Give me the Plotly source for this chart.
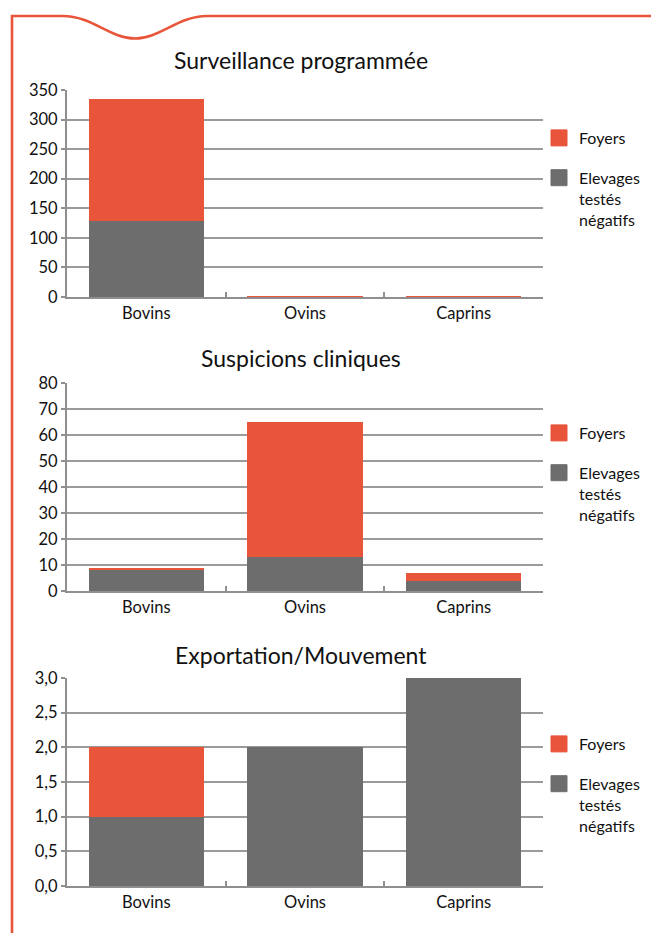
import plotly.graph_objects as go

categories = ["Bovins", "Ovins", "Caprins"]

titles = ["Surveillance programmée", "Suspicions cliniques", "Exportation/Mouvement"]

# Chart 1: Surveillance programmée
surv_negatifs = [129, 0, 0]
surv_foyers = [206, 1, 1]
# Chart 2: Suspicions cliniques
susp_negatifs = [8, 13, 4]
susp_foyers = [1, 52, 3]
# Chart 3: Exportation/Mouvement
exp_negatifs = [1, 2, 3]
exp_foyers = [1, 0, 0]

y_ranges = [(0, 350, 50), (0, 80, 10), (0, 3, 0.5)]

RED = "#E8553A"
GRAY = "#6D6D6D"
AXIS = "#8F8F8F"
FONT = "Lato"
TXT = "#111111"

W, H = 651, 933

def px(x):
    return x / W

def py(y):
    return 1 - y / H

# pixel layout of the three plot areas (top, bottom)
plot_rows = [(90, 297), (383, 591), (678, 886)]
x_left, x_right = 67, 543
legend_tops = [121, 416, 727]
title_y = [60, 358, 655]

series = [(surv_negatifs, surv_foyers), (susp_negatifs, susp_foyers), (exp_negatifs, exp_foyers)]
NEG_NAME = "Elevages<br>testés<br>négatifs"

fig = go.Figure()
for i, (neg, foy) in enumerate(series):
    n = i + 1
    xa = "x" if n == 1 else f"x{n}"
    ya = "y" if n == 1 else f"y{n}"
    lg = "legend" if n == 1 else f"legend{n}"
    fig.add_trace(go.Bar(x=categories, y=neg, name=NEG_NAME, showlegend=False,
                         marker=dict(color=GRAY, line=dict(width=0)),
                         xaxis=xa, yaxis=ya))
    fig.add_trace(go.Bar(x=categories, y=foy, name="Foyers", showlegend=False,
                         marker=dict(color=RED, line=dict(width=0)),
                         xaxis=xa, yaxis=ya))
    # legend entries (larger square swatches), Foyers listed first
    for name, col, grp in [("Foyers", RED, "a"), (NEG_NAME, GRAY, "b")]:
        fig.add_trace(go.Scatter(x=[None], y=[None], mode="markers", name=name,
                                 marker=dict(symbol="square", size=16, color=col,
                                             line=dict(color=col, width=1)),
                                 xaxis=xa, yaxis=ya, legend=lg, legendgroup=f"{grp}{n}",
                                 hoverinfo="skip"))

layout = dict(
    width=W, height=H,
    margin=dict(l=0, r=0, t=0, b=0, autoexpand=False),
    paper_bgcolor="white", plot_bgcolor="white",
    barmode="stack", bargap=0.275,
    separators=", ",
    font=dict(family=FONT, size=16, color=TXT),
)

annotations = []
for i in range(3):
    n = i + 1
    top, bot = plot_rows[i]
    lo, hi, dt = y_ranges[i]
    xk = "xaxis" if n == 1 else f"xaxis{n}"
    yk = "yaxis" if n == 1 else f"yaxis{n}"
    ya = "y" if n == 1 else f"y{n}"
    xa = "x" if n == 1 else f"x{n}"
    layout[xk] = dict(domain=[px(x_left), px(x_right)], anchor=ya, automargin=False,
                      showline=True, linecolor=AXIS, linewidth=2,
                      ticks="inside", tickson="boundaries", ticklen=5,
                      tickcolor=AXIS, tickwidth=1.5, showgrid=False,
                      tickfont=dict(size=16.5, family=FONT, color=TXT))
    layout[yk] = dict(domain=[py(bot), py(top)], anchor=xa, automargin=False,
                      range=[lo, hi], dtick=dt, tick0=0,
                      tickformat=".1f" if n == 3 else "d",
                      showline=True, linecolor=AXIS, linewidth=2,
                      showgrid=True, gridcolor="#9A9A9A", gridwidth=1.5,
                      ticks="outside", ticklen=4, tickcolor=AXIS, tickwidth=1.5,
                      zeroline=False,
                      tickfont=dict(size=16.5, family=FONT, color=TXT))
    lg = "legend" if n == 1 else f"legend{n}"
    layout[lg] = dict(x=px(539), y=py(legend_tops[i]), xanchor="left", yanchor="top",
                      traceorder="grouped", tracegroupgap=16, valign="top",
                      font=dict(size=16, family=FONT, color=TXT),
                      bgcolor="rgba(0,0,0,0)", itemwidth=30)
    annotations.append(dict(text=titles[i], x=px(301), y=py(title_y[i]),
                            xref="paper", yref="paper", showarrow=False,
                            xanchor="center", yanchor="middle",
                            font=dict(size=23, family=FONT, color=TXT)))

layout["annotations"] = annotations

def P(x, y):
    return f"{px(x):.5f},{py(y):.5f}"

frame_path = (f"M {P(12, 933)} L {P(12, 16)} L {P(63, 16)} "
              f"C {P(92, 16)} {P(110, 38.5)} {P(135, 38.5)} "
              f"C {P(160, 38.5)} {P(178, 16)} {P(207, 16)} L {P(651, 16)}")
layout["shapes"] = [dict(type="path", path=frame_path, xref="paper", yref="paper",
                         line=dict(color=RED, width=2.6), fillcolor="rgba(0,0,0,0)")]
layout["showlegend"] = True

fig.update_layout(**layout)
fig.write_html("out.html", config={"displayModeBar": False},
               post_script="document.body.style.margin='0';document.body.style.overflow='hidden';")
